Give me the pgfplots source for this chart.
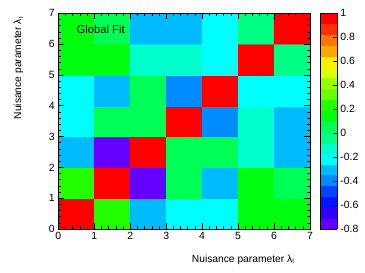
\documentclass[border=0pt]{standalone}
\usepackage{fontspec}
\setmainfont{Liberation Sans}
\usepackage{pgfplots}
\pgfplotsset{compat=1.18}
\pgfplotsset{colormap={rootpal}{
rgb=(0.387,0,1) rgb=(0.2,0,1) rgb=(0,0.08,1) rgb=(0,0.267,1) rgb=(0,0.547,1)
rgb=(0,0.733,1) rgb=(0,1,0.987) rgb=(0,1,0.8) rgb=(0,1,0.52) rgb=(0,1,0.333)
rgb=(0,1,0.053) rgb=(0.133,1,0) rgb=(0.413,1,0) rgb=(0.6,1,0) rgb=(0.88,1,0)
rgb=(1,0.933,0) rgb=(1,0.653,0) rgb=(1,0.467,0) rgb=(1,0.187,0) rgb=(1,0,0)}}
\pgfplotstableread{
x y c
0.5 0.5 1.00
1.5 0.5 0.23
2.5 0.5 -0.30
3.5 0.5 -0.21
4.5 0.5 -0.21
5.5 0.5 0.14
6.5 0.5 0.13
0.5 1.5 0.23
1.5 1.5 1.00
2.5 1.5 -0.75
3.5 1.5 0.05
4.5 1.5 -0.30
5.5 1.5 0.14
6.5 1.5 0.05
0.5 2.5 -0.30
1.5 2.5 -0.75
2.5 2.5 1.00
3.5 2.5 0.05
4.5 2.5 0.05
5.5 2.5 -0.12
6.5 2.5 -0.30
0.5 3.5 -0.21
1.5 3.5 0.05
2.5 3.5 0.05
3.5 3.5 1.00
4.5 3.5 -0.40
5.5 3.5 -0.12
6.5 3.5 -0.30
0.5 4.5 -0.21
1.5 4.5 -0.30
2.5 4.5 0.05
3.5 4.5 -0.40
4.5 4.5 1.00
5.5 4.5 -0.21
6.5 4.5 -0.21
0.5 5.5 0.14
1.5 5.5 0.14
2.5 5.5 -0.12
3.5 5.5 -0.12
4.5 5.5 -0.21
5.5 5.5 1.00
6.5 5.5 -0.03
0.5 6.5 0.13
1.5 6.5 0.05
2.5 6.5 -0.30
3.5 6.5 -0.30
4.5 6.5 -0.21
5.5 6.5 -0.03
6.5 6.5 1.00
}\corr
\begin{document}
\begin{tikzpicture}
\path[use as bounding box] (0,0) rectangle (365bp,273bp);
\begin{axis}[
  at={(58.3bp,44bp)}, anchor=south west,
  width=251.7bp, height=215.7bp, scale only axis,
  xmin=0, xmax=7, ymin=0, ymax=7,
  xtick={0,...,7}, ytick={0,...,7},
  minor x tick num=4, minor y tick num=4,
  tick align=inside, major tick length=6bp, minor tick length=3bp,
  tick style={black, line width=0.5pt},
  axis on top,
  colormap name=rootpal, colormap access=piecewise constant,
  point meta min=-0.8, point meta max=1,
  /pgf/number format/assume math mode=true,
  tick label style={font=\fontsize{10.5}{12}\selectfont},
  label style={font=\fontsize{10.3}{12}\selectfont},
  xlabel={Nuisance parameter λ\textsubscript{i}},
  ylabel={Nuisance parameter λ\textsubscript{i}},
  xlabel style={at={(axis description cs:0.952,-0.153)}, anchor=base east},
  ylabel style={at={(axis description cs:-0.148,1.0)}, anchor=base east},
  colorbar right,
  colorbar style={
    width=16.6bp, at={(parent axis.north east)}, anchor=north west, xshift=1.7bp,
    ytick={-0.8,-0.6,...,1.01}, ytick pos=right, yticklabel pos=right,
    tick align=inside, major tick length=4bp,
    /pgf/number format/assume math mode=true,
    yticklabel style={font=\fontsize{10.5}{12}\selectfont,
      /pgf/number format/fixed, /pgf/number format/precision=1},
  },
]
\addplot[matrix plot*, mesh/cols=7, point meta=explicit] table[x=x, y=y, meta=c] {\corr};
\node[anchor=west, font=\fontsize{11.3}{13}\selectfont] at (axis cs:0.41,6.46) {Global Fit};
\end{axis}
\end{tikzpicture}
\end{document}
